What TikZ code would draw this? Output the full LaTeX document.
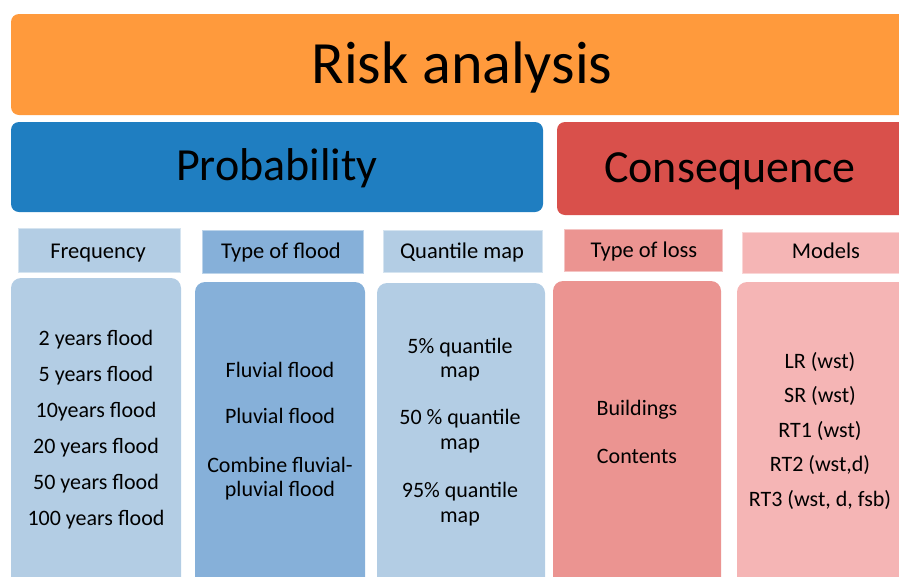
\documentclass[tikz,border=0pt]{standalone}
\usepackage{fontspec}
\setmainfont{Carlito}
\definecolor{riskorange}{HTML}{FF9A3C}
\definecolor{probblue}{HTML}{1F7EC1}
\definecolor{consred}{HTML}{D9504B}
\definecolor{paleblue}{HTML}{B3CDE4}
\definecolor{midblue}{HTML}{86B0D9}
\definecolor{salmon}{HTML}{EB9491}
\definecolor{palepink}{HTML}{F5B5B5}

\begin{document}
\begin{tikzpicture}[x=1pt, y=-1pt,
  big/.style={font=\fontsize{60}{70}\selectfont, anchor=base},
  mid/.style={font=\fontsize{46}{54}\selectfont, anchor=base},
  head/.style={font=\fontsize{22.5}{26}\selectfont, anchor=base},
  item/.style={font=\fontsize{22}{26}\selectfont, anchor=base},
  hdbox/.style={draw=white!45!#1, line width=1pt, fill=#1},
  body/.style={fill=#1, rounded corners=10pt}]
  \useasboundingbox (0,0) rectangle (899,576);
  \clip (0,0) rectangle (899,576);

  % top row
  \fill[riskorange, rounded corners=8pt] (11,14) rectangle (920,115);
  \node[big] (riskttl) at (462,83) {Risk analysis};

  \fill[probblue, rounded corners=8pt] (11,122) rectangle (543,212);
  \node[mid] (probttl) at (277,180) {Probability};
  \fill[consred, rounded corners=8pt] (557,122) rectangle (915,215);
  \node[mid] (consttl) at (730,182) {Consequence};

  % column headers
  \draw[hdbox=paleblue] (18,228) rectangle (180,272);
  \node[head] (freqhd) at (98,258) {Frequency};
  \draw[hdbox=midblue] (202,230) rectangle (363,273);
  \node[head] (floodhd) at (281,258) {Type of flood};
  \draw[hdbox=paleblue] (383,230) rectangle (542,272);
  \node[head] (quanthd) at (462,258) {Quantile map};
  \draw[hdbox=salmon] (564,229) rectangle (722,271);
  \node[head] (losshd) at (644,257) {Type of loss};
  \draw[hdbox=palepink] (742,232) rectangle (912,273);
  \node[head] (modelhd) at (826,258) {Models};

  % column bodies
  \fill[body=paleblue] (11,278) rectangle (181,590);
  \fill[body=midblue] (195,282) rectangle (365,590);
  \fill[body=paleblue] (377,283) rectangle (545,590);
  \fill[body=salmon] (553,281) rectangle (721,590);
  \fill[body=palepink] (737,282) rectangle (915,590);

  \foreach \t [count=\i] in {2 years flood, 5 years flood, 10years flood,
      20 years flood, 50 years flood, 100 years flood}
    \node[item] (freq\i) at (96,309+36*\i) {\t};

  \foreach \y/\t [count=\i] in {377/Fluvial flood, 423/Pluvial flood,
      472/Combine fluvial-, 496/pluvial flood}
    \node[item] (flood\i) at (280,\y) {\t};

  \foreach \y/\t [count=\i] in {353/5\% quantile, 377/map, 424/50 \% quantile,
      449/map, 497/95\% quantile, 522/map}
    \node[item] (quant\i) at (460,\y) {\t};

  \node[item] (loss1) at (637,415) {Buildings};
  \node[item] (loss2) at (637,463) {Contents};

  \foreach \y/\t [count=\i] in {368/LR (wst), 402.5/SR (wst), 437/RT1 (wst),
      471.5/{RT2 (wst,d)}, 506/{RT3 (wst, d, fsb)}}
    \node[item] (model\i) at (820,\y) {\t};
\end{tikzpicture}
\end{document}
